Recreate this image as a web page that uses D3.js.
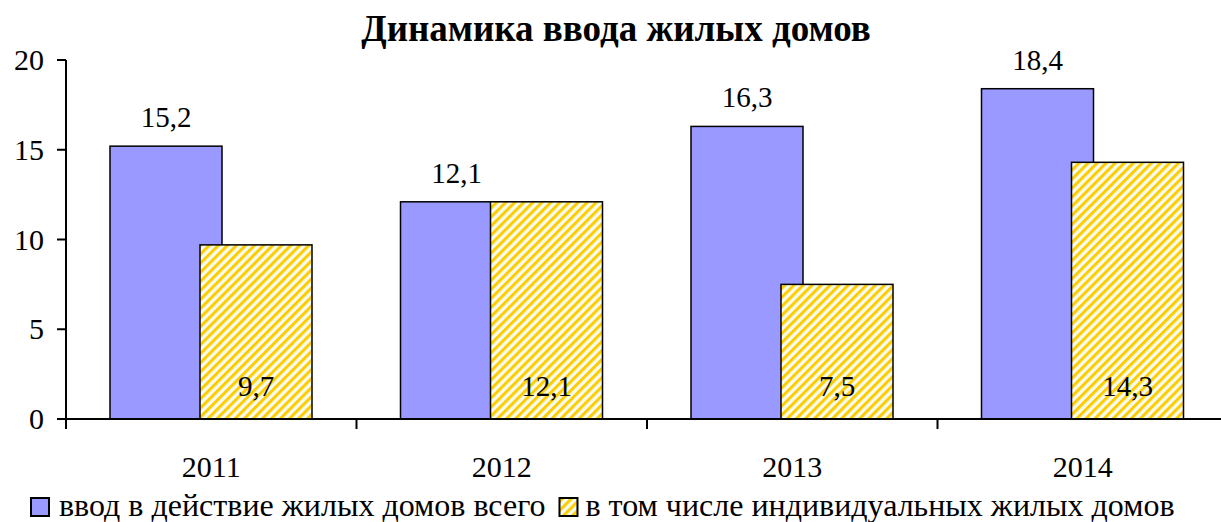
<!DOCTYPE html>
<html><head><meta charset="utf-8"><script src="https://cdn.jsdelivr.net/npm/d3@7"></script></head>
<body style="margin:0">
<svg id="chart" width="1221" height="522"></svg>
<script>
// данные
const years = ["2011", "2012", "2013", "2014"];
const totalValues = [15.2, 12.1, 16.3, 18.4];
const individualValues = [9.7, 12.1, 7.5, 14.3];
const yTicks = [0, 5, 10, 15, 20];
const seriesNames = ["ввод в действие жилых домов всего", "в том числе индивидуальных жилых домов"];

const FONT = "Liberation Serif";

main();

function main() {
    const svg = d3.select("#chart");
    const mLeft = 66, mRight = 1228, mTop = 60, mBottom = 419;

    const x = d3.scaleBand().domain(years).range([mLeft, mRight]);
    const y = d3.scaleLinear().domain([0, 20]).range([mBottom, mTop]);

    const barW = 112;
    const offBlue = 44, offYellow = 134;
    const fmt = v => String(v).replace(".", ",");

    // штриховка
    const pat = svg.append("defs").append("pattern")
        .attr("id", "hatch")
        .attr("patternUnits", "userSpaceOnUse")
        .attr("width", 6.4)
        .attr("height", 6.4)
        .attr("patternTransform", "rotate(45)");
    pat.append("rect").attr("width", 6.4).attr("height", 6.4).attr("fill", "#f4fbef");
    pat.append("rect").attr("x", 0).attr("width", 3).attr("height", 6.4).attr("fill", "#ffcc00");

    // заголовок
    svg.append("text")
        .attr("x", 616).attr("y", 41)
        .attr("text-anchor", "middle")
        .attr("font-family", FONT)
        .attr("font-size", 37).attr("font-weight", "bold")
        .text("Динамика ввода жилых домов");

    // ось Y
    svg.append("line")
        .attr("x1", mLeft).attr("x2", mLeft).attr("y1", mTop).attr("y2", mBottom + 10)
        .attr("stroke", "#000").attr("stroke-width", 2);
    svg.selectAll(".yt").data(yTicks).enter().append("line")
        .attr("class", "yt")
        .attr("x1", mLeft - 9).attr("x2", mLeft)
        .attr("y1", d => y(d)).attr("y2", d => y(d))
        .attr("stroke", "#000").attr("stroke-width", 2);
    svg.selectAll(".ylab").data(yTicks).enter().append("text")
        .attr("class", "ylab")
        .attr("x", mLeft - 22).attr("y", d => y(d) + 10)
        .attr("text-anchor", "end")
        .attr("font-family", FONT).attr("font-size", 30)
        .text(d => d);

    // столбцы всего
    svg.selectAll(".blue").data(years).enter().append("rect")
        .attr("class", "blue")
        .attr("x", d => x(d) + offBlue)
        .attr("y", (d, i) => y(totalValues[i]))
        .attr("width", barW)
        .attr("height", (d, i) => mBottom - y(totalValues[i]))
        .attr("fill", "#9999ff")
        .attr("stroke", "#000").attr("stroke-width", 1.5);

    // столбцы индивидуальные
    svg.selectAll(".yel").data(years).enter().append("rect")
        .attr("class", "yel")
        .attr("x", d => x(d) + offYellow)
        .attr("y", (d, i) => y(individualValues[i]))
        .attr("width", barW)
        .attr("height", (d, i) => mBottom - y(individualValues[i]))
        .attr("fill", "url(#hatch)")
        .attr("stroke", "#000").attr("stroke-width", 1.5);

    // подписи значений
    svg.selectAll(".blab").data(years).enter().append("text")
        .attr("class", "blab")
        .attr("x", d => x(d) + offBlue + barW / 2)
        .attr("y", (d, i) => y(totalValues[i]) - 19)
        .attr("text-anchor", "middle")
        .attr("font-family", FONT).attr("font-size", 29)
        .text((d, i) => fmt(totalValues[i]));

    svg.selectAll(".ilab").data(years).enter().append("text")
        .attr("class", "ilab")
        .attr("x", d => x(d) + offYellow + barW / 2)
        .attr("y", mBottom - 23)
        .attr("text-anchor", "middle")
        .attr("font-family", FONT).attr("font-size", 29)
        .text((d, i) => fmt(individualValues[i]));

    // ось X
    svg.append("line")
        .attr("x1", mLeft).attr("x2", mRight).attr("y1", mBottom).attr("y2", mBottom)
        .attr("stroke", "#000").attr("stroke-width", 2);
    svg.selectAll(".xt").data(years.slice(1)).enter().append("line")
        .attr("class", "xt")
        .attr("x1", d => x(d)).attr("x2", d => x(d))
        .attr("y1", mBottom).attr("y2", mBottom + 10)
        .attr("stroke", "#000").attr("stroke-width", 2);
    svg.selectAll(".xlab").data(years).enter().append("text")
        .attr("class", "xlab")
        .attr("x", d => x(d) + x.bandwidth() / 2)
        .attr("y", mBottom + 58)
        .attr("text-anchor", "middle")
        .attr("font-family", FONT).attr("font-size", 30)
        .text(d => d);

    // легенда
    svg.append("rect").attr("x", 31).attr("y", 498).attr("width", 18).attr("height", 18)
        .attr("fill", "#9999ff").attr("stroke", "#000").attr("stroke-width", 2);
    const t1 = svg.append("text").attr("x", 59).attr("y", 516)
        .attr("font-family", FONT).attr("font-size", 32).text(seriesNames[0]);
    const x2 = 59 + t1.node().getComputedTextLength() + 14;
    svg.append("rect").attr("x", x2).attr("y", 498).attr("width", 18).attr("height", 18)
        .attr("fill", "url(#hatch)").attr("stroke", "#000").attr("stroke-width", 2);
    svg.append("text").attr("x", x2 + 26).attr("y", 516)
        .attr("font-family", FONT).attr("font-size", 32).text(seriesNames[1]);
}
</script></body></html>
